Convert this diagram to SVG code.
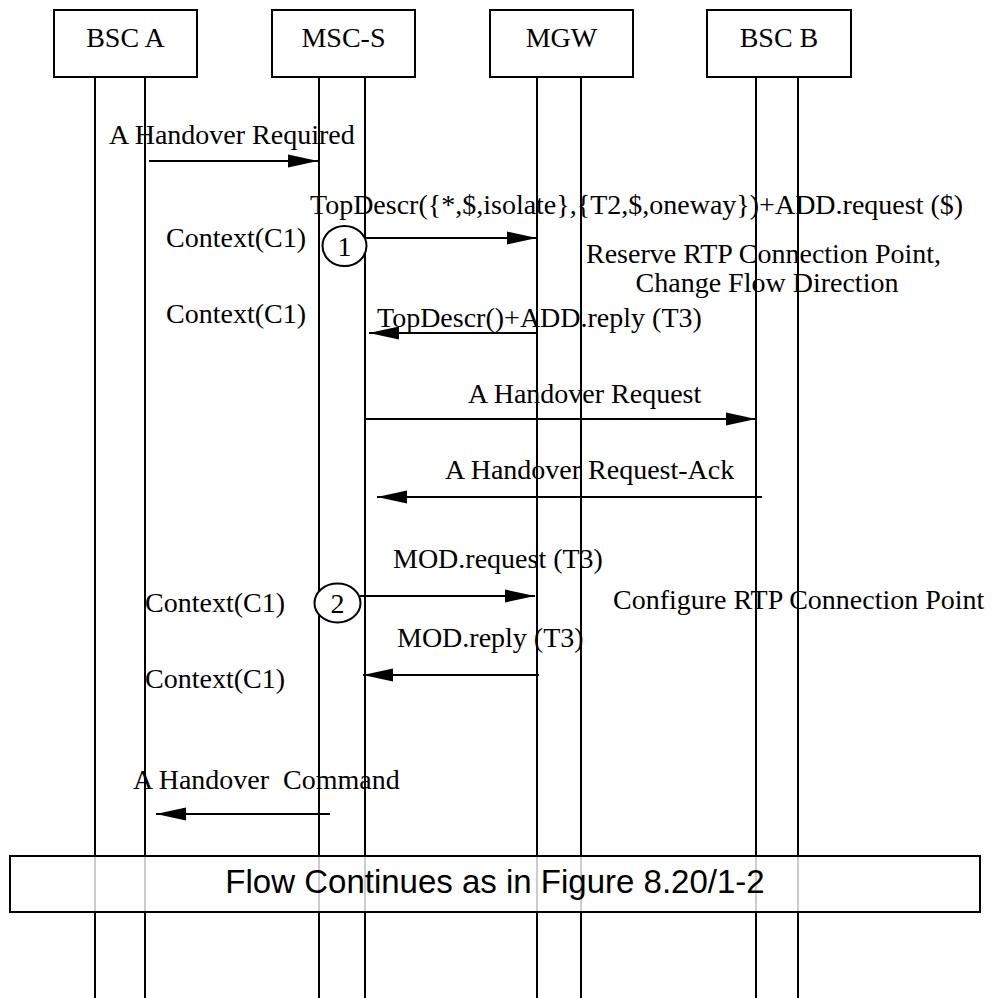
<svg xmlns="http://www.w3.org/2000/svg" width="993" height="998" viewBox="0 0 993 998">
<style>
  .box { fill: #ffffff; stroke: #000; stroke-width: 2; }
  .life { stroke: #000; stroke-width: 2; fill: none; }
  .msg { stroke: #000; stroke-width: 2; fill: none; marker-end: url(#ah); }
  .lbl { font-family: "Liberation Serif", "Times New Roman", serif; font-size: 28px; fill: #000; }
  .head { font-family: "Liberation Serif", "Times New Roman", serif; font-size: 28px; fill: #000; text-anchor: middle; }
  .circ { fill: #fff; stroke: #000; stroke-width: 2; }
  .num { font-family: "Liberation Serif", "Times New Roman", serif; font-size: 28px; text-anchor: middle; fill: #000; }
</style>
<defs>
  <marker id="ah" markerUnits="userSpaceOnUse" markerWidth="31" markerHeight="14" refX="30" refY="7" orient="auto">
    <path d="M0,0.5 L30,7 L0,13.5 Z" fill="#000"/>
  </marker>
</defs>
<rect width="993" height="998" fill="#fff"/>

<g id="node-bsca">
  <line class="life" x1="95" y1="77" x2="95" y2="998"/>
  <line class="life" x1="145" y1="77" x2="145" y2="998"/>
  <rect class="box" x="54" y="10" width="143" height="67"/>
  <text class="head" x="125.5" y="47">BSC A</text>
</g>
<g id="node-mscs">
  <line class="life" x1="319" y1="77" x2="319" y2="998"/>
  <line class="life" x1="365" y1="77" x2="365" y2="998"/>
  <rect class="box" x="272" y="10" width="143" height="67"/>
  <text class="head" x="343.5" y="47">MSC-S</text>
</g>
<g id="node-mgw">
  <line class="life" x1="537" y1="77" x2="537" y2="998"/>
  <line class="life" x1="581" y1="77" x2="581" y2="998"/>
  <rect class="box" x="490" y="10" width="143" height="67"/>
  <text class="head" x="561.5" y="47">MGW</text>
</g>
<g id="node-bscb">
  <line class="life" x1="756" y1="77" x2="756" y2="998"/>
  <line class="life" x1="798" y1="77" x2="798" y2="998"/>
  <rect class="box" x="707" y="10" width="144" height="67"/>
  <text class="head" x="779" y="47">BSC B</text>
</g>

<g id="connectors">
  <line class="msg" x1="149" y1="161" x2="318" y2="161"/>
  <line class="msg" x1="366" y1="238" x2="537" y2="238"/>
  <line class="msg" x1="538" y1="333" x2="369" y2="333"/>
  <line class="msg" x1="365" y1="419" x2="756" y2="419"/>
  <line class="msg" x1="762" y1="497" x2="377" y2="497"/>
  <line class="msg" x1="360" y1="596" x2="535" y2="596"/>
  <line class="msg" x1="539" y1="675" x2="363" y2="675"/>
  <line class="msg" x1="330" y1="814" x2="156" y2="814"/>
</g>

<g id="labels">
  <text class="lbl" x="109" y="144">A Handover Required</text>
  <text class="lbl" x="310" y="214">TopDescr({*,$,isolate},{T2,$,oneway})+ADD.request ($)</text>
  <text class="lbl" x="166" y="247">Context(C1)</text>
  <text class="lbl" x="763.5" y="263" text-anchor="middle">Reserve RTP Connection Point,</text>
  <text class="lbl" x="767" y="292" text-anchor="middle">Change Flow Direction</text>
  <text class="lbl" x="166" y="323">Context(C1)</text>
  <text class="lbl" x="377" y="327">TopDescr()+ADD.reply (T3)</text>
  <text class="lbl" x="468" y="403">A Handover Request</text>
  <text class="lbl" x="445" y="479">A Handover Request-Ack</text>
  <text class="lbl" x="393" y="568">MOD.request (T3)</text>
  <text class="lbl" x="145" y="612">Context(C1)</text>
  <text class="lbl" x="613" y="609">Configure RTP Connection Point</text>
  <text class="lbl" x="397" y="647">MOD.reply (T3)</text>
  <text class="lbl" x="145" y="688">Context(C1)</text>
  <text class="lbl" x="133" y="789" style="white-space:pre" xml:space="preserve">A Handover  Command</text>
</g>

<g id="step-1">
  <ellipse class="circ" cx="344.5" cy="246" rx="22" ry="20"/>
  <text class="num" x="344.5" y="256">1</text>
</g>
<g id="step-2">
  <ellipse class="circ" cx="337.5" cy="603" rx="23" ry="19.5"/>
  <text class="num" x="337.5" y="613">2</text>
</g>

<g id="flow-continues">
  <rect x="10" y="856" width="970" height="56" fill="#fff" fill-opacity="0.8" stroke="#000" stroke-width="2"/>
  <text x="495" y="893" text-anchor="middle" style="font-family:'Liberation Sans', Arial, sans-serif; font-size:33px; fill:#000;">Flow Continues as in Figure 8.20/1-2</text>
</g>
</svg>
